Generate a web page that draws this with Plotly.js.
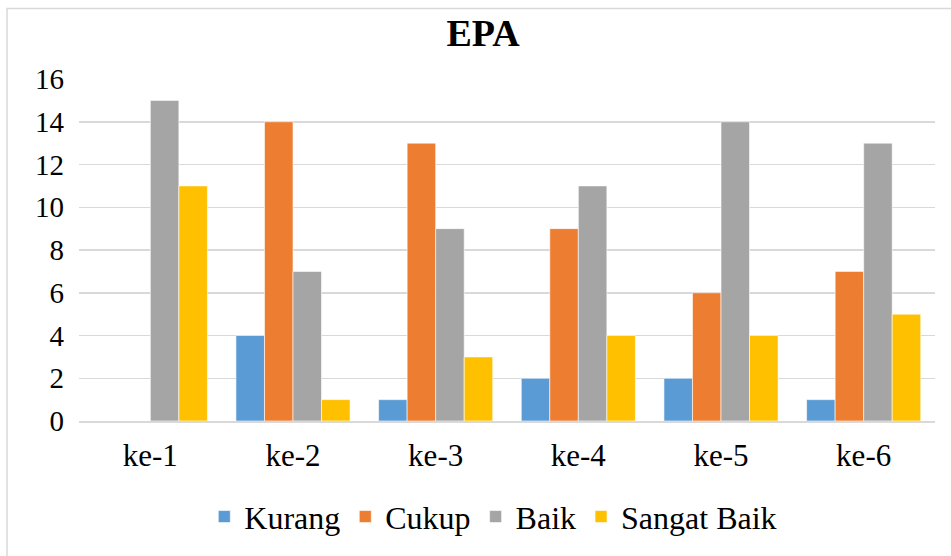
<!DOCTYPE html>
<html><head><meta charset="utf-8">
<script src="https://cdn.plot.ly/plotly-3.0.1.min.js"></script>
<style>html,body{margin:0;padding:0;background:#fff}#c{width:951px;height:556px}</style>
</head><body><div id="c"></div>
<script>
var categories = ["ke-1","ke-2","ke-3","ke-4","ke-5","ke-6"];
var kurang = [0,4,1,2,2,1];
var cukup = [0,14,13,9,6,7];
var baik = [15,7,9,11,14,13];
var sangatBaik = [11,1,3,4,4,5];
var seriesNames = ["Kurang","Cukup","Baik","Sangat Baik"];
var colors = ["#5B9BD5","#ED7D31","#A5A5A5","#FFC000"];
var vals = [kurang,cukup,baik,sangatBaik];
var traces = vals.map(function(v,i){
  return {type:"bar", x:categories, y:v, name:seriesNames[i],
    marker:{color:colors[i], line:{color:"#ffffff", width:0.6}}};
});
var font = "Liberation Serif";
var layout = {
  width:951, height:556,
  margin:{l:79, r:16, t:79, b:133},
  paper_bgcolor:"#fff", plot_bgcolor:"#fff",
  font:{family:font, color:"#000"},
  barmode:"group", bargap:0.2, bargroupgap:0,
  title:{text:"<b>EPA</b>", x:0.508, xanchor:"center", y:0.942, yanchor:"middle",
    font:{family:font, size:38, color:"#000"}},
  xaxis:{tickfont:{family:font, size:31, color:"#000"}, showline:true, linecolor:"#d9d9d9", linewidth:1.5,
    ticks:"", showgrid:false, ticklabelstandoff:6},
  yaxis:{range:[0,16], dtick:2, tickfont:{family:font, size:29, color:"#000"}, gridcolor:"#d9d9d9", gridwidth:1.5,
    zeroline:false, showline:false, ticks:"", ticklabelstandoff:14},
  legend:{orientation:"h", x:0.484, xanchor:"center", y:-0.28, yanchor:"middle",
    font:{family:font, size:32, color:"#000"}, traceorder:"normal", itemwidth:30},
  shapes:[{type:"rect", xref:"paper", yref:"paper", x0:-72/856, x1:1.1, y0:-0.5, y1:(556-8-133)/344,
    line:{color:"#d9d9d9", width:1.5}, fillcolor:"rgba(0,0,0,0)", layer:"below"}]
};
Plotly.newPlot("c", traces, layout, {displayModeBar:false, staticPlot:true});
</script></body></html>
